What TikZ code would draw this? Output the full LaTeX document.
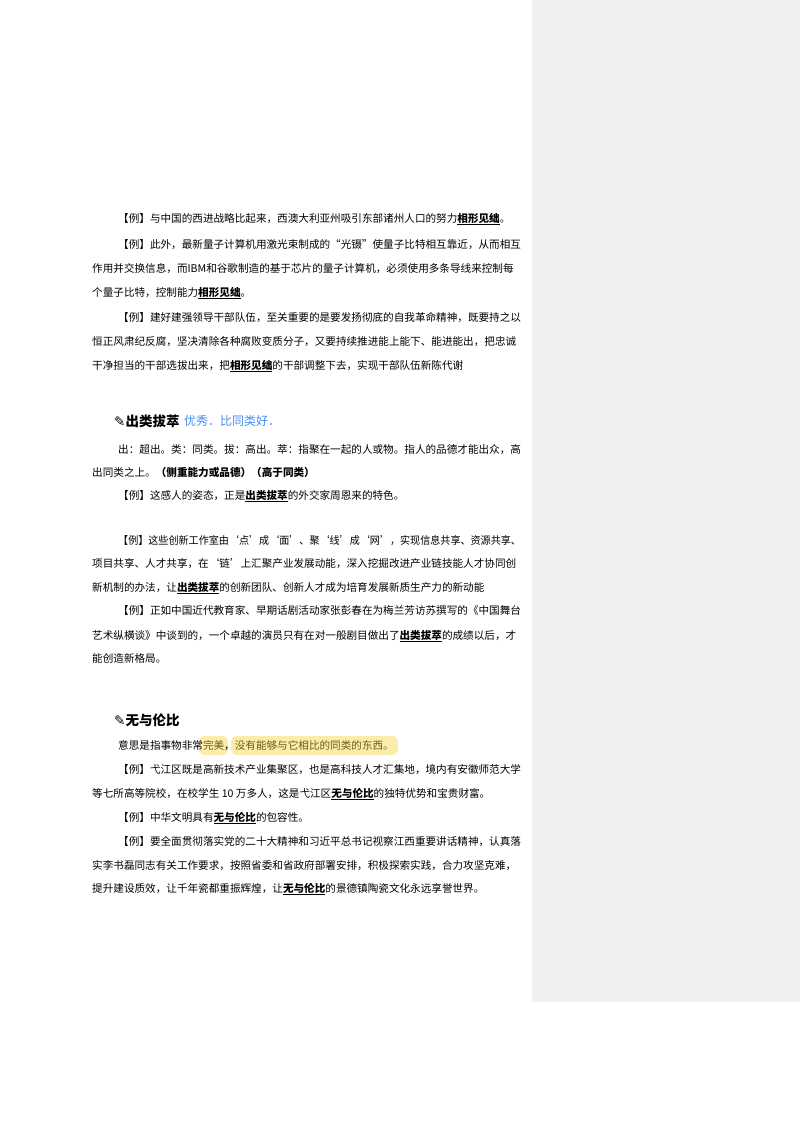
\documentclass[tikz,border=0pt]{standalone}
\usepackage{fontspec}
\setmainfont{Noto Sans CJK SC}
\newfontfamily\symf{DejaVu Sans}
\newcommand{\term}[1]{\underline{\textbf{#1}}}
\newcommand{\hl}[1]{\textcolor{hltext}{#1}}
\definecolor{panel}{RGB}{240,240,240}
\definecolor{hlfill}{RGB}{252,236,170}
\definecolor{hltext}{RGB}{110,90,30}
\definecolor{hand}{RGB}{70,140,240}
\begin{document}
\begin{tikzpicture}[x=1pt,y=-1pt,
  txt/.style={anchor=base west,inner sep=0pt,font=\fontsize{10.6}{12}\selectfont},
  head/.style={anchor=base west,inner sep=0pt,font=\fontsize{13.5}{15}\selectfont\bfseries}]
\useasboundingbox (0,0) rectangle (800,1132);
\fill[panel] (532,0) rectangle (800,1002);
% highlights
\fill[hlfill,rounded corners=6pt] (199,736) rectangle (228,755);
\fill[hlfill,rounded corners=6pt] (231,736) rectangle (398,755);
\newcommand{\nl}[4]{\node[txt] (#1) at (#2,#3) {#4};}
\nl{a1}{118}{222}{【例】与中国的西进战略比起来，西澳大利亚州吸引东部诸州人口的努力\term{相形见绌}。}
\nl{a2}{118}{248}{【例】此外，最新量子计算机用激光束制成的“光镊”使量子比特相互靠近，从而相互}
\nl{a3}{92}{272}{作用并交换信息，而IBM和谷歌制造的基于芯片的量子计算机，必须使用多条导线来控制每}
\nl{a4}{92}{296}{个量子比特，控制能力\term{相形见绌}。}
\nl{a5}{118}{321}{【例】建好建强领导干部队伍，至关重要的是要发扬彻底的自我革命精神，既要持之以}
\nl{a6}{92}{345}{恒正风肃纪反腐，坚决清除各种腐败变质分子，又要持续推进能上能下、能进能出，把忠诚}
\nl{a7}{92}{369}{干净担当的干部选拔出来，把\term{相形见绌}的干部调整下去，实现干部队伍新陈代谢}
\node[head] (h1) at (114,426) {{\symf ✎}出类拔萃};
\node[anchor=base west,inner sep=0pt,text=hand,font=\fontsize{12}{14}\selectfont] (hw) at (184,425) {优秀．比同类好．};
\nl{b1}{118}{453}{出：超出。类：同类。拔：高出。萃：指聚在一起的人或物。指人的品德才能出众，高}
\nl{b2}{92}{476}{出同类之上。\textbf{（侧重能力或品德）（高于同类）}}
\nl{b3}{118}{499}{【例】这感人的姿态，正是\term{出类拔萃}的外交家周恩来的特色。}
\nl{b4}{118}{544}{\scalebox{0.95}[1]{【例】这些创新工作室由‘点’成‘面’、聚‘线’成‘网’，实现信息共享、资源共享、}}
\nl{b5}{92}{567}{项目共享、人才共享，在‘链’上汇聚产业发展动能，深入挖掘改进产业链技能人才协同创}
\nl{b6}{92}{591}{新机制的办法，让\term{出类拔萃}的创新团队、创新人才成为培育发展新质生产力的新动能}
\nl{b7}{118}{614}{【例】正如中国近代教育家、早期话剧活动家张彭春在为梅兰芳访苏撰写的《中国舞台}
\nl{b8}{92}{639}{艺术纵横谈》中谈到的，一个卓越的演员只有在对一般剧目做出了\term{出类拔萃}的成绩以后，才}
\nl{b9}{92}{662}{能创造新格局。}
\node[head] (h2) at (114,725) {{\symf ✎}无与伦比};
\nl{c1}{118}{749}{意思是指事物非常\hl{完美}，\hl{没有能够与它相比的同类的东西。}}
\nl{c2}{118}{773}{【例】弋江区既是高新技术产业集聚区，也是高科技人才汇集地，境内有安徽师范大学}
\nl{c3}{92}{797}{等七所高等院校，在校学生 10 万多人，这是弋江区\term{无与伦比}的独特优势和宝贵财富。}
\nl{c4}{118}{821}{【例】中华文明具有\term{无与伦比}的包容性。}
\nl{c5}{118}{845}{【例】要全面贯彻落实党的二十大精神和习近平总书记视察江西重要讲话精神，认真落}
\nl{c6}{92}{869}{实李书磊同志有关工作要求，按照省委和省政府部署安排，积极探索实践，合力攻坚克难，}
\nl{c7}{92}{892}{提升建设质效，让千年瓷都重振辉煌，让\term{无与伦比}的景德镇陶瓷文化永远享誉世界。}
\end{tikzpicture}
\end{document}
